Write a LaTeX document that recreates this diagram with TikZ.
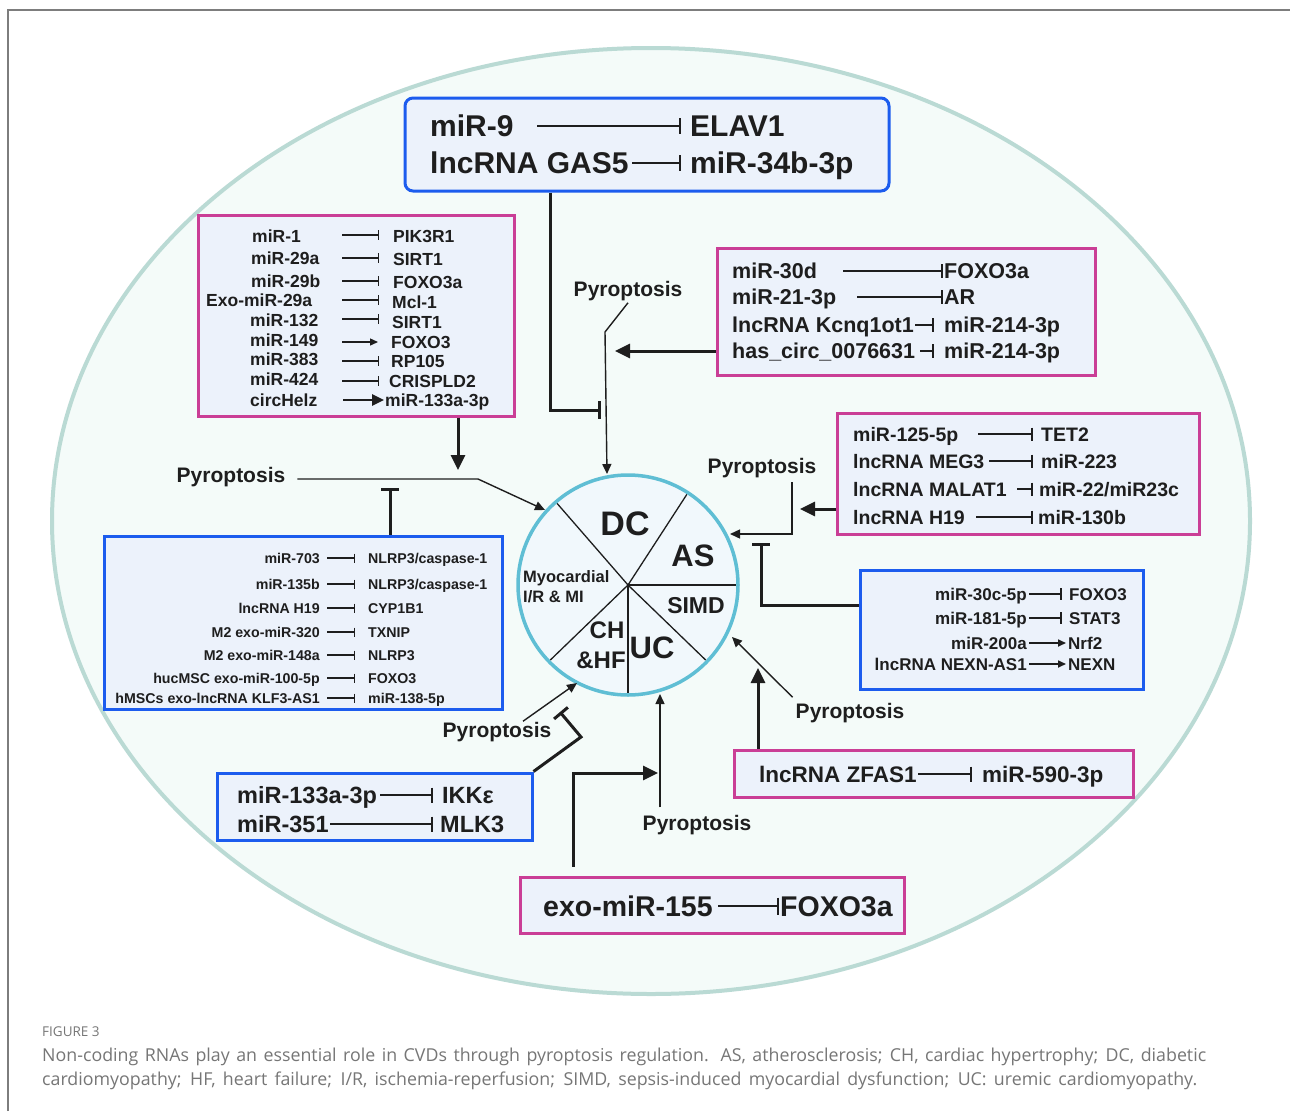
\documentclass[tikz,border=0pt]{standalone}
\usepackage{fontspec}
\setmainfont{Liberation Sans}
\newfontfamily\capfont{Open Sans}
\usetikzlibrary{arrows.meta}
\definecolor{txtc}{RGB}{30,30,30}
\definecolor{boxblue}{RGB}{28,92,238}
\definecolor{boxmag}{RGB}{202,62,150}
\definecolor{boxfill}{RGB}{236,242,251}
\definecolor{ellfill}{RGB}{244,251,249}
\definecolor{elldraw}{RGB}{186,218,212}
\definecolor{circdraw}{RGB}{95,190,212}
\definecolor{circfill}{RGB}{241,248,252}
\definecolor{framec}{RGB}{125,125,125}
\definecolor{capc}{RGB}{118,118,118}
\newcommand\fsz[1]{\fontsize{#1}{#1}\selectfont}
\begin{document}
\begin{tikzpicture}[x=1pt,y=-1pt,
  fz/.style={font=\bfseries\fsz{#1}, text height={0.72*#1pt}},
  tx/.style={inner sep=0pt, text=txtc, text depth=0pt},
  bl/.style={tx, anchor=west},
  br/.style={tx, anchor=east},
  bc/.style={tx, anchor=center},
  bluebox/.style={draw=boxblue, line width=3pt, fill=boxfill, inner sep=0pt},
  magbox/.style={draw=boxmag, line width=3pt, fill=boxfill, inner sep=0pt},
  inh/.style={draw=txtc, line width=1.6pt, -{Bar[width=#1]}},
  inh/.default=12pt,
  act/.style={draw=txtc, line width=1.6pt, -{Triangle[length=8pt,width=7pt]}},
  conn/.style={draw=txtc, line width=1.4pt, -{Triangle[length=10pt,width=9pt]}},
  bigarr/.style={draw=txtc, line width=3pt, -{Triangle[length=15pt,width=14pt]}},
  tbar/.style={draw=txtc, line width=3pt, -{Bar[width=18pt]}},
  pyr/.style={tx, anchor=center, fz=21},
  divl/.style={draw=txtc, line width=1.3pt}
]
\useasboundingbox (0,0) rectangle (1290,1111);
\fill[white] (0,0) rectangle (1290,1111);
% frame
\draw[framec, line width=1.5pt] (8,1111) -- (8,10) -- (1290,10);
% big ellipse
\draw[draw=elldraw, fill=ellfill, line width=4pt] (651,521) ellipse [x radius=599pt, y radius=473pt];

% central circle
\node[circle, minimum size=220pt, draw=circdraw, fill=circfill, line width=3.5pt, inner sep=0pt] (circ) at (628,585) {};
\foreach \a in {-131,-57,0,44,90,136} \draw[divl] (circ.center) -- ++(\a:108);
\node[bc, fz=34] (dc) at (625,523) {DC};
\node[bc, fz=31] (as) at (693,555) {AS};
\node[bc, fz=23] (simd) at (696,605) {SIMD};
\node[bc, fz=31] (uc) at (652,647) {UC};
\node[bc, fz=24] (ch) at (607,630) {CH};
\node[bc, fz=24] (hf) at (601,660) {\&HF};
\node[bl, fz=16.5] (myo) at (523,577) {Myocardial};
\node[bl, fz=16.5] (ir) at (523,597) {I/R \& MI};

% ---------- top box
\node[bluebox, rounded corners=8pt, minimum width=484pt, minimum height=93pt] (topbox) at (647,144.5) {};
\node[bl, fz=30] (ta1) at (430,126) {miR-9};
\node[bl, fz=30] (tb1) at (690,126) {ELAV1};
\node[bl, fz=30] (ta2) at (430,163) {lncRNA GAS5};
\node[bl, fz=30] (tb2) at (690,163) {miR-34b-3p};
\draw[inh=16pt, line width=2pt] (537,126) -- (681,126);
\draw[inh=16pt, line width=2pt] (632,163) -- (681,163);

% ---------- right box 1
\node[magbox, minimum width=378pt, minimum height=127pt] (rb1) at (906,311.5) {};
\foreach \n/\l/\r/\y in {1/miR-30d/FOXO3a/271, 2/miR-21-3p/AR/297, 3/lncRNA Kcnq1ot1/miR-214-3p/325, 4/has\_circ\_0076631/miR-214-3p/351}{
  \node[bl, fz=21.5] (ra\n) at (732,\y) {\l};
  \node[bl, fz=21.5] (rr\n) at (944,\y) {\r};
}
\draw[inh=14pt] (843,271) -- (943,271);
\draw[inh=14pt] (857,297) -- (943,297);
\draw[inh=14pt] (915,325) -- (934,325);
\draw[inh=14pt] (920,351) -- (934,351);

% ---------- left top box
\node[magbox, minimum width=316pt, minimum height=201pt] (ltb) at (356,315.5) {};
\foreach \n/\l/\x/\y in {1/miR-1/252/236, 2/miR-29a/251/258, 3/miR-29b/251/281, 4/Exo-miR-29a/206/300, 5/miR-132/250/320, 6/miR-149/250/340, 7/miR-383/250/359, 8/miR-424/250/379, 9/circHelz/250/400}{
  \node[bl, fz=17.5] (la\n) at (\x,\y) {\l};
}
\foreach \n/\r/\x/\y in {1/PIK3R1/393/236, 2/SIRT1/393/259, 3/FOXO3a/393/282, 4/Mcl-1/392/302, 5/SIRT1/392/322, 6/FOXO3/391/342, 7/RP105/391/361, 8/CRISPLD2/389/381, 9/miR-133a-3p/385/400}{
  \node[bl, fz=17.5] (lr\n) at (\x,\y) {\r};
}
\foreach \y in {235,258,281,300,319,361,381}{ \draw[inh=10pt, line width=1.4pt] (342,\y) -- (379,\y); }
\draw[act, line width=1.4pt] (342,342) -- (378,342);
\draw[draw=txtc, line width=2.6pt, -{Triangle[length=12pt,width=11pt]}] (343,400) -- (384,400);

% ---------- left bottom box
\node[bluebox, minimum width=398pt, minimum height=173pt] (lbb) at (303,622.5) {};
\foreach \n/\l/\r/\y in {1/miR-703/NLRP3\slash caspase-1/558, 2/miR-135b/NLRP3\slash caspase-1/584, 3/lncRNA H19/CYP1B1/608, 4/M2 exo-miR-320/TXNIP/632, 5/M2 exo-miR-148a/NLRP3/655, 6/hucMSC exo-miR-100-5p/FOXO3/678, 7/hMSCs exo-lncRNA KLF3-AS1/miR-138-5p/698}{
  \node[br, fz=14.2] (ba\n) at (320,\y) {\l};
  \node[bl, fz=14.2] (bb\n) at (368,\y) {\r};
  \draw[inh=9pt, line width=1.3pt] (327,\y) -- (355,\y);
}

% ---------- right box 2
\node[magbox, minimum width=362pt, minimum height=121pt] (rb2) at (1018,473.5) {};
\foreach \n/\l/\r/\y/\xs/\xr in {1/miR-125-5p/TET2/434/978/1041, 2/lncRNA MEG3/miR-223/461/989/1041, 3/lncRNA MALAT1/miR-22\slash miR23c/489/1017/1039, 4/lncRNA H19/miR-130b/517/976/1038}{
  \node[bl, fz=19.5] (sa\n) at (853,\y) {\l};
  \node[bl, fz=19.5] (sb\n) at (\xr,\y) {\r};
  \draw[inh=13pt] (\xs,\y) -- (1033,\y);
}

% ---------- right box 3
\node[bluebox, minimum width=283pt, minimum height=119pt] (rb3) at (1001.5,629.5) {};
\foreach \n/\l/\r/\y in {1/miR-30c-5p/FOXO3/594, 2/miR-181-5p/STAT3/618}{
  \node[br, fz=17] (ua\n) at (1027,\y) {\l};
  \node[bl, fz=17] (ub\n) at (1069,\y) {\r};
  \draw[inh=12pt] (1029,\y) -- (1062,\y);
}
\foreach \n/\l/\r/\y in {3/miR-200a/Nrf2/643, 4/lncRNA NEXN-AS1/NEXN/664}{
  \node[br, fz=17] (ua\n) at (1027,\y) {\l};
  \node[bl, fz=17] (ub\n) at (1068,\y) {\r};
  \draw[act] (1029,\y) -- (1066,\y);
}

% ---------- ZFAS1 box
\node[magbox, minimum width=399pt, minimum height=47pt] (zb) at (933.5,773.5) {};
\node[bl, fz=22.5] (za) at (759,774) {lncRNA ZFAS1};
\node[bl, fz=22.5] (zr) at (982,774) {miR-590-3p};
\draw[inh=15pt] (918,774) -- (972,774);

% ---------- exo box
\node[magbox, minimum width=384pt, minimum height=56pt] (eb) at (712,905) {};
\node[bl, fz=28.5] (ea) at (543,906) {exo-miR-155};
\node[bl, fz=28.5] (er) at (780,906) {FOXO3a};
\draw[inh=17pt, line width=2pt] (718,906) -- (779,906);

% ---------- bottom-left blue box
\node[bluebox, minimum width=315pt, minimum height=67pt] (blb) at (374.5,806.5) {};
\node[bl, fz=23.5] (ka1) at (237,795) {miR-133a-3p};
\node[bl, fz=23.5] (kb1) at (442,795) {IKKε};
\node[bl, fz=23.5] (ka2) at (237,824) {miR-351};
\node[bl, fz=23.5] (kb2) at (440,824) {MLK3};
\draw[inh=15pt, line width=1.8pt] (380,795) -- (433,795);
\draw[inh=15pt, line width=1.8pt] (330,824) -- (433,824);

% ---------- Pyroptosis labels
\node[pyr] (p1) at (628,289) {Pyroptosis};
\node[pyr] (p2) at (231,475) {Pyroptosis};
\node[pyr] (p3) at (762,466) {Pyroptosis};
\node[pyr] (p4) at (497,730) {Pyroptosis};
\node[pyr] (p5) at (850,711) {Pyroptosis};
\node[pyr] (p6) at (697,823) {Pyroptosis};

% ---------- coordinates of free ends
\coordinate (c1) at (601,410);
\coordinate (c2a) at (605,332);
\coordinate (c2) at (607,474);
\coordinate (c3) at (615,351);
\coordinate (c4) at (458,470);
\coordinate (c5a) at (478,479);
\coordinate (c5) at (545,510);
\coordinate (c6) at (390,488);
\coordinate (c7) at (800,509);
\coordinate (c8a) at (792,482);
\coordinate (c8) at (730,534);
\coordinate (c9) at (761,543);
\coordinate (c10) at (758,668);
\coordinate (c11) at (732,637);
\coordinate (c12a) at (573,773);
\coordinate (c12) at (658,773);
\coordinate (c13) at (660,694);
\coordinate (c14a) at (581,737);
\coordinate (c14) at (560,712);
\coordinate (c15) at (577,683);

% ---------- connectors
\draw[tbar] ([xshift=-97pt]topbox.south) |- (c1);
\draw[conn] ([yshift=-6pt]p1.south) -- (c2a) -- (c2);
\draw[bigarr] ([yshift=-39.5pt]rb1.west) -- (c3);
\draw[bigarr] ([xshift=102pt]ltb.south) -- (c4);
\draw[conn] (p2.east) ++(12,4) -- (c5a) -- (c5);
\draw[tbar] ([xshift=87pt]lbb.north) -- (c6);
\draw[bigarr] ([yshift=-35.5pt]rb2.west) -- (c7);
\draw[conn] (c8a) |- (c8);
\draw[tbar] ([yshift=24.5pt]rb3.west) -| (c9);
\draw[bigarr] ([xshift=-175.5pt]zb.north) -- (c10);
\draw[conn] (p5.north west) ++(-3,-6) -- (c11);
\draw[bigarr] ([xshift=-139pt,yshift=9pt]eb.north) -- (c12a) -- (c12);
\draw[conn] (p6.north) ++(-37,-8) -- (c13);
\draw[tbar] (blb.north east) -- (c14a) -- (c14);
\draw[conn] (p4.north) ++(26,-1) -- (c15);

% ---------- caption
\node[anchor=west, inner sep=0pt, text=capc, font=\capfont\fsz{13.5}] (fig) at (42,1032) {FIGURE 3};
\node[anchor=west, inner sep=0pt, text=capc, font=\capfont\fsz{17.8}] (cap1) at (42,1057) {\makebox[1164pt][s]{Non-coding RNAs play an essential role in CVDs through pyroptosis regulation. AS, atherosclerosis; CH, cardiac hypertrophy; DC, diabetic}};
\node[anchor=west, inner sep=0pt, text=capc, font=\capfont\fsz{17.8}] (cap2) at (42,1081) {\makebox[1155pt][s]{cardiomyopathy; HF, heart failure; I/R, ischemia-reperfusion; SIMD, sepsis-induced myocardial dysfunction; UC: uremic cardiomyopathy.}};
\end{tikzpicture}
\end{document}
